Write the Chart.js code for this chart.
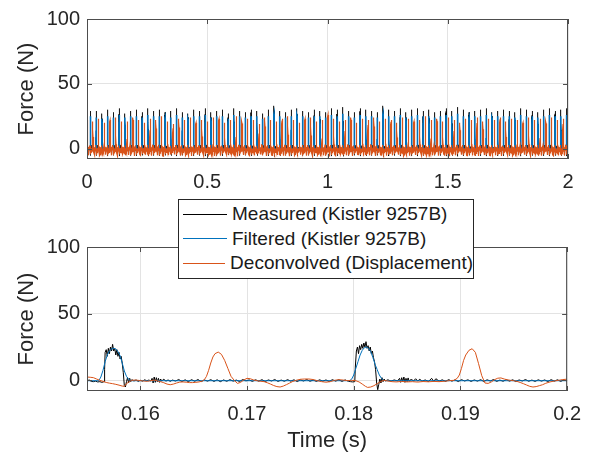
<!DOCTYPE html>
<html>
<head>
<meta charset="utf-8">
<script src="https://cdn.jsdelivr.net/npm/chart.js@4.4.0/dist/chart.umd.min.js"></script>
<style>
  html, body { margin: 0; padding: 0; background: #fff; }
  body { width: 592px; height: 461px; position: relative; overflow: hidden; font-family: 'Liberation Sans', Arial, sans-serif; }
  #topChart { position: absolute; left: 0; top: 0; }
  #botChart { position: absolute; left: 0; top: 200px; }
  #legend { position: absolute; left: 178px; top: 199px; width: 294px; height: 76px; border: 1px solid #262626;
            background: #fff; box-sizing: content-box; padding-top: 2px; }
  .row { height: 24.5px; display: flex; align-items: center; font-size: 19px; color: #1a1a1a; white-space: nowrap; }
  .swatch { width: 44px; height: 0; border-top: 1px solid; margin: 0 5px 0 4px; }
</style>
</head>
<body>
<canvas id="topChart" width="592" height="200"></canvas>
<canvas id="botChart" width="592" height="261"></canvas>
<div id="legend"></div>
<script>
// series names and colours (MATLAB default order)
const seriesLabels = ['Measured (Kistler 9257B)', 'Filtered (Kistler 9257B)', 'Deconvolved (Displacement)'];
const seriesColors = ['#000000', '#0072BD', '#D95319'];

// tick labels
const topXTicks = [0, 0.5, 1, 1.5, 2];
const topXLabels = ['0', '0.5', '1', '1.5', '2'];
const botXTicks = [0.16, 0.17, 0.18, 0.19, 0.2];
const botXLabels = ['0.16', '0.17', '0.18', '0.19', '0.2'];
const yTicks = [0, 50, 100];
const yLabels = ['0', '50', '100'];

// zoomed record (lower plot), time in s, force in N
const measTime = [0.1548,0.1550,0.1552,0.1554,0.1556,0.1558,0.1560,0.1562,0.1564,0.1566,0.15665,0.1567,0.1568,0.1569,0.1570,0.1571,0.1572,0.1573,0.1574,0.1575,0.1576,0.1577,0.1578,0.1579,0.1580,0.1581,0.1582,0.1583,0.1584,0.1585,0.1586,0.1587,0.1588,0.1589,0.1590,0.1591,0.1592,0.1594,0.1596,0.1598,0.1600,0.1602,0.1604,0.1606,0.1608,0.1610,0.1611,0.1612,0.1613,0.1614,0.1615,0.1616,0.1617,0.1618,0.1619,0.1620,0.1622,0.1624,0.1626,0.1628,0.1630,0.1633,0.1636,0.1639,0.1642,0.1645,0.1648,0.1651,0.1654,0.1657,0.1660,0.1663,0.1666,0.1669,0.1672,0.1675,0.1678,0.1681,0.1684,0.1687,0.1690,0.1693,0.1696,0.1699,0.1702,0.1705,0.1708,0.1711,0.1714,0.1717,0.1720,0.1723,0.1726,0.1729,0.1732,0.1735,0.1738,0.1741,0.1744,0.1747,0.1750,0.1753,0.1756,0.1759,0.1762,0.1765,0.1768,0.1771,0.1774,0.1777,0.1780,0.1783,0.1786,0.1789,0.1792,0.1795,0.1797,0.1799,0.1801,0.18015,0.18025,0.18035,0.18045,0.18055,0.18065,0.18075,0.18085,0.18095,0.18105,0.18115,0.18125,0.18135,0.18145,0.18155,0.18165,0.18175,0.18185,0.18195,0.18205,0.18215,0.18225,0.18235,0.18245,0.18255,0.18265,0.18275,0.18285,0.18295,0.1832,0.1835,0.1838,0.1841,0.1843,0.1844,0.1845,0.1846,0.1847,0.1848,0.1849,0.1850,0.1851,0.1852,0.1854,0.1856,0.1858,0.1860,0.1862,0.1864,0.1867,0.1870,0.1873,0.1875,0.1877,0.1880,0.1883,0.1886,0.1889,0.1892,0.1895,0.1898,0.1901,0.1904,0.1907,0.1910,0.1913,0.1916,0.1919,0.1922,0.1925,0.1928,0.1931,0.1934,0.1937,0.1940,0.1943,0.1946,0.1949,0.1952,0.1955,0.1958,0.1961,0.1964,0.1967,0.1970,0.1973,0.1976,0.1979,0.1982,0.1985,0.1988,0.1991,0.1994,0.1997,0.2000,0.2002];
const measForce = [-0.3,-0.5,0.3,-0.8,-1.0,-0.6,-1.2,-1.0,-1.5,-1.0,8,21,23,18,24,20,25,22,27,22,24,19,23,18,21,16,18,13,6,-4,-5,-1,2,-2,1.5,-1,0.5,-0.5,0.3,-0.8,0,-0.6,0.4,-0.3,0.2,-0.5,1.5,-2,2.5,-1.5,2,-1,1.5,-1.5,1,-0.5,0.8,-0.6,0.3,-0.8,0.2,-0.5,0.6,-0.9,0.4,-1.0,0.5,-0.7,0.6,-0.9,0.3,-0.6,0.5,-0.8,0.4,-1.0,0.3,-0.7,0.5,-0.6,0.2,-0.9,0.6,-0.4,0.3,-0.8,0.4,-0.6,0.5,-0.9,0.3,-0.5,0.6,-0.8,0.2,-0.7,0.5,-0.6,0.4,-0.9,0.3,-0.5,0.6,-0.7,0.2,-0.8,0.4,-0.6,0.3,-0.9,0.5,-0.6,0.4,-0.8,0.3,-0.7,-1.0,-1.2,-1.0,10,22,25,20,26,23,27,24,28,25,29,24,26,22,25,20,22,17,14,8,-2,-7,-3,1,-2,2,-1,1,-0.5,0.4,-0.6,0.3,-0.5,1.5,-1.5,2,-1,2.5,-1.5,1.5,-1,1.8,-0.8,1,-0.6,1.2,-0.5,0.8,-0.7,0.3,-0.9,1.5,-0.8,1.2,-0.6,0.4,-0.8,0.5,-0.6,0.3,-0.9,0.5,-0.5,0.4,-0.8,0.3,-0.6,0.5,-0.9,0.4,-0.5,0.6,-0.8,0.2,-0.7,0.5,-0.6,0.4,-0.9,0.3,-0.5,0.6,-0.7,0.2,-0.8,0.4,-0.6,0.3,-0.9,0.5,-0.6,0.4,-0.8,0.3,-0.6,0.2];

const filtTime = [0.1548,0.1561,0.1563,0.1565,0.1567,0.1569,0.1571,0.1573,0.1575,0.1577,0.1579,0.1581,0.1583,0.1585,0.1587,0.1589,0.1591,0.1796,0.1798,0.1800,0.1802,0.1804,0.1806,0.1808,0.1810,0.1812,0.1814,0.1816,0.1818,0.1820,0.1822,0.1824,0.1826,0.1828,0.1830,0.2002];
const filtForce = [-0.3,-0.3,2.5,7.5,14,19,22,23.5,24,23.5,21.5,18.5,13,7,3,0.8,-0.3,-0.3,0.8,4,9,14,19,22.5,24.5,25,24,21.5,17,12,8,4,1.5,0,-0.3,-0.3];

const deconvTime = [0.1547,0.1550,0.1553,0.1556,0.1559,0.1562,0.1565,0.1568,0.1571,0.1574,0.1577,0.1580,0.1583,0.1585,0.1587,0.1590,0.1592,0.1595,0.1598,0.1601,0.1604,0.1607,0.1610,0.1613,0.1616,0.1619,0.1622,0.1625,0.1628,0.1631,0.1634,0.1637,0.1640,0.1643,0.1646,0.1649,0.1652,0.1655,0.1658,0.1660,0.1662,0.1664,0.1666,0.1668,0.1670,0.1673,0.1676,0.1679,0.1682,0.1685,0.1688,0.1691,0.1694,0.1697,0.1700,0.1703,0.1706,0.1710,0.1713,0.1716,0.1719,0.1722,0.1725,0.1728,0.1731,0.1734,0.1737,0.1740,0.1743,0.1746,0.1750,0.1754,0.1758,0.1762,0.1766,0.1770,0.1774,0.1778,0.1782,0.1786,0.1790,0.1794,0.1798,0.1802,0.1805,0.1808,0.1811,0.1813,0.1816,0.1819,0.1822,0.1825,0.1828,0.1832,0.1836,0.1840,0.1845,0.1850,0.1855,0.1860,0.1865,0.1870,0.1875,0.1880,0.1885,0.1890,0.1894,0.1897,0.1899,0.1901,0.1903,0.1905,0.1908,0.1911,0.1914,0.1917,0.1920,0.1923,0.1926,0.1929,0.1932,0.1935,0.1938,0.1941,0.1944,0.1947,0.1950,0.1953,0.1956,0.1959,0.1962,0.1965,0.1968,0.1971,0.1974,0.1977,0.1980,0.1984,0.1988,0.1992,0.1996,0.1999,0.2002];
const deconvForce = [2.3,2.5,2.3,2.0,1.0,0.0,-0.8,-1.6,-2.1,-2.5,-3.0,-3.6,-4.3,-4.5,-2.5,-0.8,0.0,0.2,0.0,-0.3,-0.6,-0.7,-0.2,0.1,-0.4,-1.0,-1.8,-2.8,-3.3,-2.8,-2.0,-1.3,-1.2,-1.4,-1.7,-1.7,-1.5,-1.2,-0.6,0.5,3,7.5,13,17.5,20,21.2,19.5,15,9,3,0,-2.3,-1.5,0.3,1.5,1.2,0.3,-0.4,-0.7,-1.0,-1.8,-2.8,-3.9,-4.7,-5.0,-4.3,-3.2,-2.0,-0.8,0.0,0.8,1.0,1.0,0.6,-0.3,-1.0,-1.4,-1.0,0.0,0.5,0.2,-0.2,0.0,-0.3,-1.2,-2.8,-4.5,-5.3,-5.0,-4.0,-2.5,-1.0,0.0,-0.5,-1.0,-1.2,-0.8,-1.2,-1.0,-1.3,-0.9,-1.1,-0.8,-1.0,-0.7,-0.2,0.0,1.5,4,9,15,19,22.5,23.7,21,12.5,3.5,-2,-2.3,-1.2,0.5,1.6,1.8,1.0,0.4,0.0,-0.3,-0.8,-1.6,-2.5,-3.5,-4.5,-5.0,-4.7,-4.0,-3.3,-2.2,-1.2,-0.5,0.0,0.6,0.8,0.2];

// full record (upper plot): one entry per tool pass, peak of each pulse
const pulseTimes = [-0.0096,0.0143,0.0382,0.0620,0.0859,0.1097,0.1336,0.1574,0.1813,0.2051,0.2290,0.2528,0.2767,0.3005,0.3244,0.3482,0.3721,0.3959,0.4198,0.4436,0.4675,0.4913,0.5152,0.5390,0.5629,0.5867,0.6106,0.6344,0.6583,0.6821,0.7060,0.7298,0.7537,0.7775,0.8014,0.8252,0.8491,0.8729,0.8968,0.9206,0.9445,0.9683,0.9922,1.0160,1.0399,1.0637,1.0876,1.1114,1.1353,1.1591,1.1830,1.2068,1.2307,1.2545,1.2784,1.3022,1.3261,1.3499,1.3738,1.3976,1.4215,1.4453,1.4692,1.4930,1.5169,1.5407,1.5646,1.5884,1.6123,1.6361,1.6600,1.6838,1.7077,1.7315,1.7554,1.7792,1.8031,1.8269,1.8508,1.8746,1.8985,1.9223,1.9462,1.9700,1.9939];
const measPeaks = [28,29,29,27,30,28,31,27,29,30, 28,31,29,30,28,29,31,28,27,30, 29,31,28,29,30,27,31,29,28,30, 29,27,30,33,29,28,30,31,29,28, 30,29,28,31,30,32,29,28,31,30, 29,28,33,30,29,31,28,30,31,29, 30,28,29,31,29,32,30,28,29,30, 31,28,29,30,29,28,31,30,29,28, 30,31,29,30,31];
const filtPeaks = [24,25,24,23,25,24,26,24,25,25, 24,26,25,25,24,24,26,24,23,25, 25,26,24,25,25,23,26,25,24,25, 25,23,25,27,25,24,25,26,25,24, 25,25,24,26,25,27,25,24,26,25, 25,24,27,25,25,26,24,25,26,25, 25,24,25,26,25,27,25,24,25,25, 26,24,25,25,25,24,26,25,25,24, 25,26,25,25,26];
const deconvPeaks = [22,21,23,20,22,24,21,21,24,22, 20,23,22,25,21,19,23,22,24,20, 22,21,24,23,20,22,25,21,23,22, 19,24,22,21,23,25,22,20,23,24, 21,22,26,23,21,22,24,20,23,22, 24,21,23,22,20,24,23,21,22,25, 22,23,21,24,22,20,23,22,24,21, 23,22,24,21,23,22,20,24,22,23, 21,24,22,23,22];

// one pass of the zoomed record, used as the pulse shape for the full record
const cycleStart = 0.1550, cycleEnd = 0.17885, cyclePulse = 0.1574;

function zoomed(times, values) {
  return times.map((t, i) => ({ x: t, y: values[i] }));
}

function fullRecord(times, values, peaks) {
  const cyc = [];
  times.forEach((t, i) => {
    if (t >= cycleStart && t < cycleEnd) cyc.push([t - cyclePulse, values[i]]);
  });
  const top = Math.max(...cyc.map(p => p[1]));
  const pts = [];
  pulseTimes.forEach((tp, k) => {
    const s = peaks[k] / top;
    cyc.forEach(p => pts.push({ x: tp + p[0], y: p[1] * s }));
  });
  return pts;
}

// box with inward tick marks, like MATLAB axes
const boxPlugin = {
  id: 'box',
  afterDatasetsDraw(chart) {
    const { ctx, chartArea: a, scales } = chart;
    ctx.save();
    ctx.strokeStyle = '#4d4d4d';
    ctx.lineWidth = 1;
    ctx.strokeRect(a.left + 0.5, a.top + 0.5, a.right - a.left - 1, a.bottom - a.top - 1);
    ctx.beginPath();
    scales.x.ticks.forEach(t => {
      const px = Math.round(scales.x.getPixelForValue(t.value)) + 0.5;
      ctx.moveTo(px, a.bottom); ctx.lineTo(px, a.bottom - 5);
      ctx.moveTo(px, a.top); ctx.lineTo(px, a.top + 5);
    });
    scales.y.ticks.forEach(t => {
      const py = Math.round(scales.y.getPixelForValue(t.value)) + 0.5;
      ctx.moveTo(a.left, py); ctx.lineTo(a.left + 5, py);
      ctx.moveTo(a.right, py); ctx.lineTo(a.right - 5, py);
    });
    ctx.stroke();
    ctx.restore();
  }
};

Chart.defaults.font.family = "'Liberation Sans', Arial, sans-serif";

function makeChart(id, data, widths, xMin, xMax, xTicks, xLabels, xTitle, padTop, xHeight) {
  const datasets = data.map((d, i) => ({
    label: seriesLabels[i],
    data: d,
    borderColor: seriesColors[i],
    borderWidth: widths[i],
    pointRadius: 0,
    tension: 0,
    order: 3 - i
  }));
  return new Chart(document.getElementById(id), {
    type: 'line',
    data: { datasets },
    plugins: [boxPlugin],
    options: {
      responsive: false,
      animation: false,
      devicePixelRatio: 1,
      events: [],
      layout: { padding: { left: 0, right: 24, top: padTop, bottom: 0 } },
      plugins: { legend: { display: false }, tooltip: { enabled: false } },
      scales: {
        x: {
          type: 'linear', min: xMin, max: xMax,
          afterBuildTicks: s => { s.ticks = xTicks.map(v => ({ value: v })); },
          afterFit: s => { s.height = xHeight; },
          grid: { color: '#e3e3e3', drawTicks: false },
          border: { display: false },
          ticks: { padding: 11, color: '#262626', font: { size: 20 }, maxRotation: 0, autoSkip: false,
                   callback: (v, i) => xLabels[i] },
          title: { display: !!xTitle, text: xTitle, color: '#262626', font: { size: 22 },
                   padding: { top: 0, bottom: 7 } }
        },
        y: {
          type: 'linear', min: -8, max: 100,
          afterBuildTicks: s => { s.ticks = yTicks.map(v => ({ value: v })); },
          afterFit: s => { s.width = 87; },
          grid: { color: '#e3e3e3', drawTicks: false },
          border: { display: false },
          ticks: { padding: 7, color: '#262626', font: { size: 20 }, autoSkip: false,
                   callback: (v, i) => yLabels[i] },
          title: { display: true, text: 'Force (N)', color: '#262626', font: { size: 22 },
                   padding: { top: 14, bottom: 0 } }
        }
      }
    }
  });
}

makeChart('topChart', [
  fullRecord(measTime, measForce, measPeaks),
  fullRecord(filtTime, filtForce, filtPeaks),
  fullRecord(deconvTime, deconvForce, deconvPeaks)
], [0.7, 1.6, 1.2], 0, 2, topXTicks, topXLabels, '', 15, 41);

makeChart('botChart', [
  zoomed(measTime, measForce),
  zoomed(filtTime, filtForce),
  zoomed(deconvTime, deconvForce)
], [1, 1, 1], 0.155, 0.2, botXTicks, botXLabels, 'Time (s)', 47, 70);

// legend box between the two axes
const legend = document.getElementById('legend');
seriesLabels.forEach((lab, i) => {
  const row = document.createElement('div');
  row.className = 'row';
  const sw = document.createElement('span');
  sw.className = 'swatch';
  sw.style.borderTopColor = seriesColors[i];
  const tx = document.createElement('span');
  tx.textContent = lab;
  row.appendChild(sw);
  row.appendChild(tx);
  legend.appendChild(row);
});
</script>
</body>
</html>
